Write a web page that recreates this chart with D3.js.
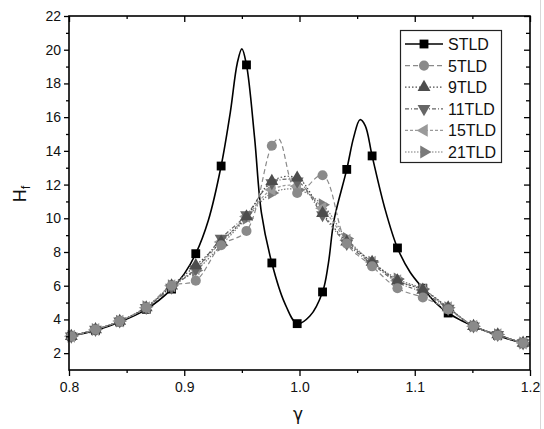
<!DOCTYPE html>
<html><head><meta charset="utf-8">
<script src="https://cdn.jsdelivr.net/npm/d3@7"></script>
<style>
html,body{margin:0;padding:0;background:#fff;}
svg{display:block;font-family:"Liberation Sans",Arial,sans-serif;}
</style></head>
<body>
<svg id="c" width="544" height="429"></svg>
<script>
// ---- data ----
const seriesNames = ["STLD","5TLD","9TLD","11TLD","15TLD","21TLD"];
const xTickLabels = [0.8,0.9,1.0,1.1,1.2];
const yTickLabels = [2,4,6,8,10,12,14,16,18,20,22];

// marker positions (gamma) shared by the TLD series
const markGamma = [0.802,0.823,0.844,0.867,0.889,0.910,0.932,0.954,0.976,0.998,1.020,1.041,1.063,1.085,1.107,1.129,1.151,1.172,1.194];

// STLD markers and full curve
const stldMarkH = [3.0,3.35,3.85,4.6,5.8,7.9,13.1,19.1,7.35,3.75,5.63,12.9,13.7,8.24,5.85,4.38,3.6,3.05,2.6];
const stldGamma = [0.800,0.823,0.844,0.867,0.889,0.900,0.910,0.921,0.932,0.940,0.946,0.950,0.954,0.961,0.967,0.976,0.987,0.998,1.009,1.020,1.025,1.030,1.041,1.047,1.0525,1.057,1.063,1.074,1.085,1.096,1.107,1.118,1.129,1.140,1.151,1.162,1.172,1.183,1.194,1.200];
const stldH     = [3.0,3.35,3.85,4.6,5.8,6.7,7.9,9.9,13.1,16.3,19.2,20.05,19.1,14.8,10.3,7.35,5.0,3.75,4.2,5.63,7.3,9.9,12.9,14.8,15.85,15.5,13.7,10.6,8.24,6.8,5.85,5.0,4.38,3.95,3.6,3.3,3.05,2.8,2.6,2.5];

// 5TLD markers + extra curve points
const tld5MarkH = [3.0,3.4,3.9,4.7,6.0,6.3,8.4,9.25,14.3,11.5,12.55,8.5,7.15,5.85,5.3,4.6,3.6,3.05,2.6];
const tld5Gamma = [0.802,0.823,0.844,0.867,0.889,0.910,0.932,0.954,0.976,0.982,0.998,1.020,1.041,1.063,1.085,1.107,1.129,1.151,1.172,1.194,1.200];
const tld5H     = [3.0,3.4,3.9,4.7,6.0,6.3,8.4,9.25,14.3,14.7,11.5,12.55,8.5,7.15,5.85,5.3,4.6,3.6,3.05,2.6,2.5];

const tld9MarkH  = [3.0,3.4,3.9,4.7,6.0,7.2,8.6,10.1,12.2,12.4,10.3,8.6,7.4,6.3,5.75,4.7,3.6,3.1,2.6];
const tld11MarkH = [3.0,3.4,3.9,4.7,5.9,7.0,8.8,10.2,12.1,12.2,10.2,8.5,7.3,6.2,5.6,4.65,3.6,3.1,2.6];
const tld15MarkH = [3.0,3.4,3.9,4.7,6.0,7.0,8.6,10.1,11.7,11.9,10.6,8.7,7.4,6.3,5.75,4.7,3.6,3.1,2.6];
const tld21MarkH = [3.0,3.4,3.9,4.75,6.0,6.9,8.4,10.0,11.5,11.7,10.8,8.8,7.4,6.4,5.8,4.7,3.6,3.1,2.6];
const endGamma = 1.200, endH = 2.5;

// ---- layout / style ----
const svg = d3.select("#c");
const X0 = 69, X1 = 530, Y0 = 16, Y1 = 370;
const x = d3.scaleLinear().domain([0.8,1.2]).range([X0,X1]);
const y = d3.scaleLinear().domain([1,22]).range([Y1,Y0]);

const styles = {
  "STLD": {color:"#000", dash:null, sym:d3.symbolSquare, size:78, rot:0, w:1.6},
  "5TLD": {color:"#8a8a8a", dash:"5,3", sym:d3.symbolCircle, size:80, rot:0, w:1.2},
  "9TLD": {color:"#4d4d4d", dash:"1.5,2", sym:d3.symbolTriangle, size:72, rot:0, w:1.2},
  "11TLD":{color:"#666", dash:"4,2,1,2", sym:d3.symbolTriangle, size:72, rot:180, w:1.2},
  "15TLD":{color:"#9a9a9a", dash:"3,2", sym:d3.symbolTriangle, size:72, rot:-90, w:1.2},
  "21TLD":{color:"#7a7a7a", dash:"1.5,1.5", sym:d3.symbolTriangle, size:72, rot:90, w:1.2}
};

function curveData(g,h){ return g.map((v,i)=>[v,h[i]]); }
const seriesData = {
  "STLD": {curve: curveData(stldGamma, stldH), marks: curveData(markGamma, stldMarkH)},
  "5TLD": {curve: curveData(tld5Gamma, tld5H), marks: curveData(markGamma, tld5MarkH)},
  "9TLD": {curve: curveData(markGamma.concat([endGamma]), tld9MarkH.concat([endH])), marks: curveData(markGamma, tld9MarkH)},
  "11TLD":{curve: curveData(markGamma.concat([endGamma]), tld11MarkH.concat([endH])), marks: curveData(markGamma, tld11MarkH)},
  "15TLD":{curve: curveData(markGamma.concat([endGamma]), tld15MarkH.concat([endH])), marks: curveData(markGamma, tld15MarkH)},
  "21TLD":{curve: curveData(markGamma.concat([endGamma]), tld21MarkH.concat([endH])), marks: curveData(markGamma, tld21MarkH)}
};

// faint image border at right
svg.append("line").attr("x1",540.5).attr("x2",540.5).attr("y1",0).attr("y2",429).attr("stroke","#d8d8d8");

const plot = svg.append("g");
const line = d3.line().x(d=>x(d[0])).y(d=>y(d[1])).curve(d3.curveCatmullRom.alpha(0.5));

const drawOrder = ["STLD","21TLD","15TLD","11TLD","9TLD","5TLD"];
drawOrder.forEach(name=>{
  const s = styles[name], d = seriesData[name];
  plot.append("path").datum(d.curve).attr("d",line)
    .attr("fill","none").attr("stroke",s.color).attr("stroke-width",s.w)
    .attr("stroke-dasharray",s.dash);
});
drawOrder.forEach(name=>{
  const s = styles[name], d = seriesData[name];
  plot.selectAll(null).data(d.marks).enter().append("path")
    .attr("d", d3.symbol().type(s.sym).size(s.size))
    .attr("transform", p=>`translate(${x(p[0])},${y(p[1])}) rotate(${s.rot})`)
    .attr("fill", s.color);
});

// ---- axes ----
const fmt = d3.format(".1f");
svg.append("g").attr("transform",`translate(0,${Y1})`)
  .call(d3.axisBottom(x).tickValues(xTickLabels).tickFormat(fmt).tickSize(6).tickSizeOuter(0).tickPadding(6));
svg.append("g").attr("transform",`translate(0,${Y1})`)
  .call(d3.axisBottom(x).tickValues([0.85,0.95,1.05,1.15]).tickFormat("").tickSize(3).tickSizeOuter(0));
svg.append("g").attr("transform",`translate(${X0},0)`)
  .call(d3.axisLeft(y).tickValues(yTickLabels).tickFormat(d3.format("d")).tickSize(5).tickSizeOuter(0).tickPadding(3));
svg.append("g").attr("transform",`translate(${X0},0)`)
  .call(d3.axisLeft(y).tickValues([3,5,7,9,11,13,15,17,19,21]).tickFormat("").tickSize(3).tickSizeOuter(0));
// top and right, inward ticks
svg.append("g").attr("transform",`translate(0,${Y0})`)
  .call(d3.axisTop(x).tickValues(xTickLabels).tickFormat("").tickSize(-6).tickSizeOuter(0));
svg.append("g").attr("transform",`translate(0,${Y0})`)
  .call(d3.axisTop(x).tickValues([0.85,0.95,1.05,1.15]).tickFormat("").tickSize(-3).tickSizeOuter(0));
svg.append("g").attr("transform",`translate(${X1},0)`)
  .call(d3.axisRight(y).tickValues(yTickLabels).tickFormat("").tickSize(-6).tickSizeOuter(0));
svg.append("g").attr("transform",`translate(${X1},0)`)
  .call(d3.axisRight(y).tickValues([3,5,7,9,11,13,15,17,19,21]).tickFormat("").tickSize(-4).tickSizeOuter(0));

svg.selectAll(".domain").remove();
svg.selectAll(".tick line").attr("stroke","#000").attr("stroke-width",1.3);
svg.selectAll(".tick text").attr("fill","#111").style("font-size","14px").style("font-family","'Liberation Sans',Arial,sans-serif");

svg.append("rect").attr("x",X0).attr("y",Y0).attr("width",X1-X0).attr("height",Y1-Y0)
  .attr("fill","none").attr("stroke","#000").attr("stroke-width",1.6);

// axis titles
svg.append("text").attr("x",298).attr("y",420).attr("text-anchor","middle")
  .style("font-size","17px").style("font-family","'DejaVu Sans',sans-serif").attr("fill","#111").text("γ");
const yt = svg.append("text").attr("transform","translate(26,194) rotate(-90)")
  .attr("text-anchor","middle").style("font-size","18px").attr("fill","#111");
yt.append("tspan").text("H");
yt.append("tspan").attr("dy",4).style("font-size","13px").text("f");

// ---- legend ----
const lg = svg.append("g");
lg.append("rect").attr("x",400.5).attr("y",30.5).attr("width",101).attr("height",132)
  .attr("fill","#fff").attr("stroke","#222").attr("stroke-width",1.2);
const rowY = d3.scalePoint().domain(seriesNames).range([44,152]);
seriesNames.forEach(name=>{
  const s = styles[name], ry = rowY(name);
  lg.append("line").attr("x1",405).attr("x2",443).attr("y1",ry).attr("y2",ry)
    .attr("stroke",s.color).attr("stroke-width",s.w).attr("stroke-dasharray",s.dash);
  lg.append("path").attr("d",d3.symbol().type(s.sym).size(s.size))
    .attr("transform",`translate(424,${ry}) rotate(${s.rot})`).attr("fill",s.color);
  lg.append("text").attr("x",448).attr("y",ry+6).style("font-size","16px").attr("fill","#111").text(name);
});
</script>
</body></html>
